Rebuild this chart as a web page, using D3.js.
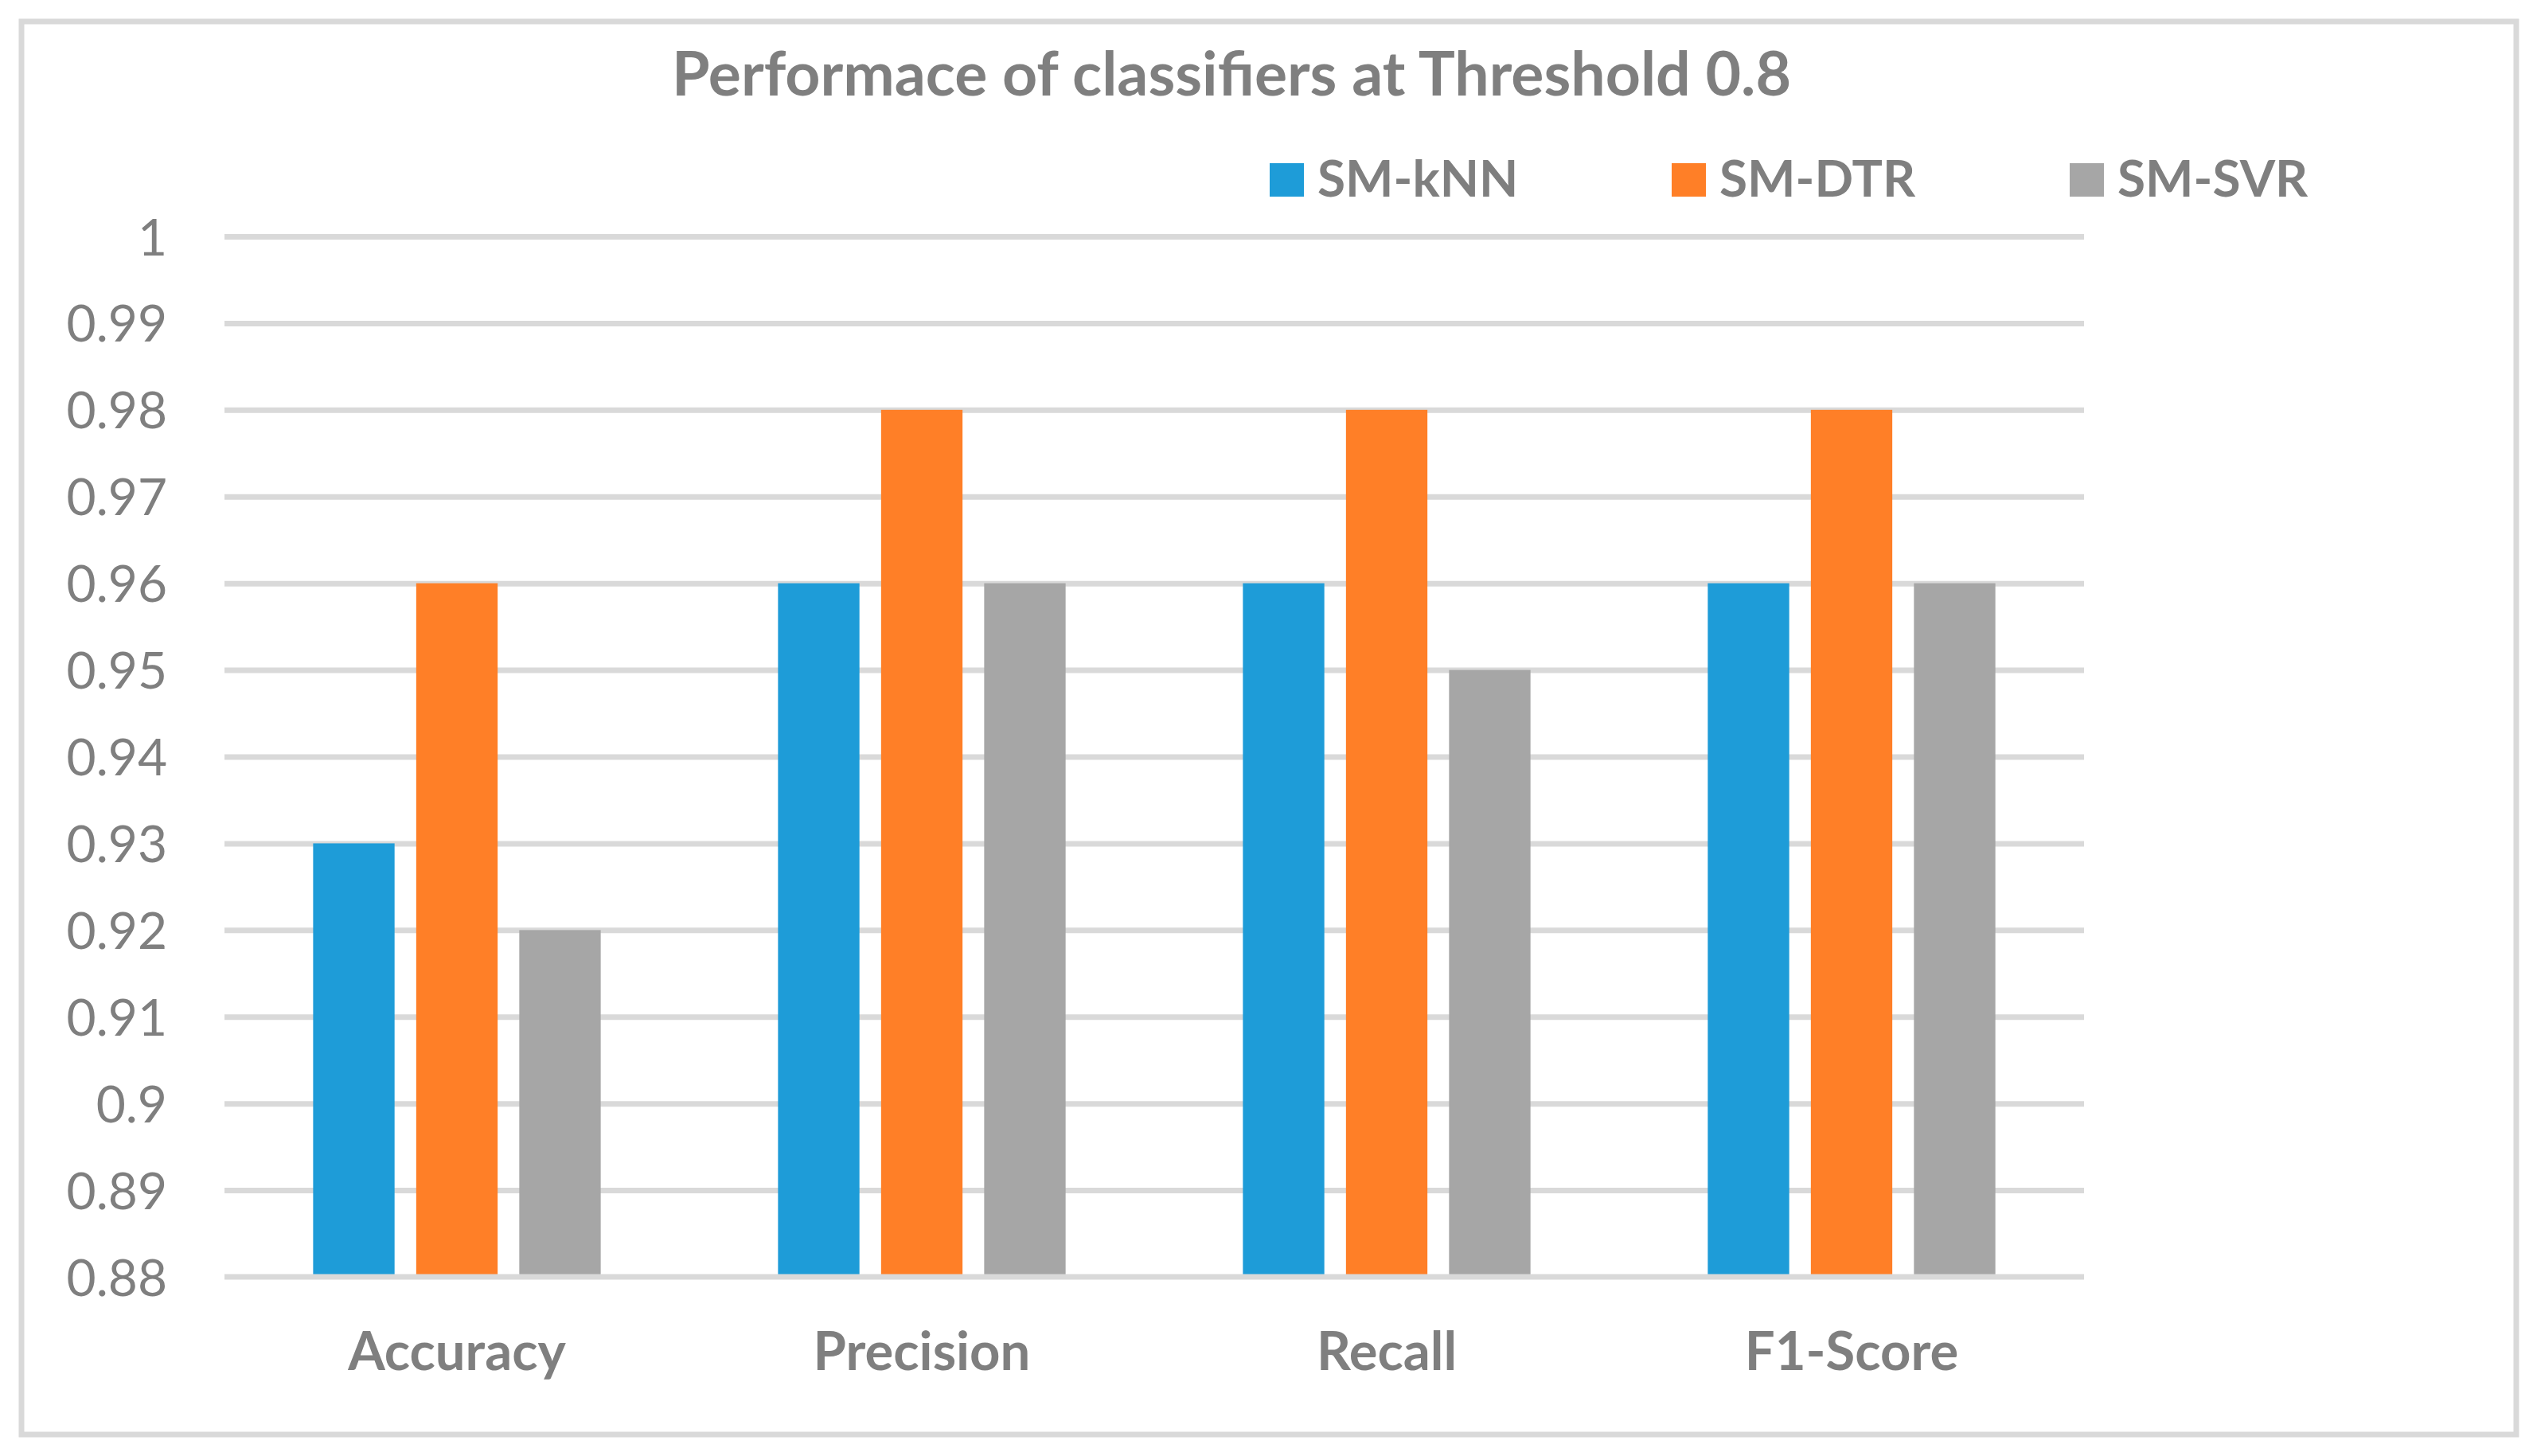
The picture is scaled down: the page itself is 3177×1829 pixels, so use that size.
<!DOCTYPE html>
<meta charset="utf-8" />
<style>
  body { margin: 0; background: #fff; }
  #chart { width: 3177px; height: 1829px; }
  text { font-family: Lato, "Open Sans", sans-serif; fill: #7f7f7f; }
  .grid line { stroke: #d9d9d9; stroke-width: 7; }
  .grid .domain { display: none; }
  .yaxis .domain { display: none; }
  .yaxis text { font-size: 64px; }
  .cat { font-size: 67px; font-weight: bold; }
  .legend text { font-size: 64px; font-weight: bold; }
  .title { font-size: 77px; font-weight: bold; }
</style>
<body>
  <div id="chart"></div>
  <script src="https://d3js.org/d3.v7.min.js"></script>
  <script>
    const categories = ["Accuracy", "Precision", "Recall", "F1-Score"];
    const seriesNames = ["SM-kNN", "SM-DTR", "SM-SVR"];
    const knn = [0.93, 0.96, 0.96, 0.96];
    const dtr = [0.96, 0.98, 0.98, 0.98];
    const svr = [0.92, 0.96, 0.95, 0.96];
    const yTicks = [0.88, 0.89, 0.9, 0.91, 0.92, 0.93, 0.94, 0.95, 0.96, 0.97, 0.98, 0.99, 1];
    const colors = ["#1e9cd8", "#ff7f27", "#a6a6a6"];

    const width = 3177;
    const height = 1829;
    const plot = { left: 282, right: 2618, top: 297, bottom: 1604 };

    const svg = d3
      .select("#chart")
      .append("svg")
      .attr("width", width)
      .attr("height", height);

    // outer frame
    svg
      .append("rect")
      .attr("x", 27)
      .attr("y", 27)
      .attr("width", 3134)
      .attr("height", 1775)
      .attr("fill", "none")
      .attr("stroke", "#d9d9d9")
      .attr("stroke-width", 7);

    const y = d3.scaleLinear().domain([0.88, 1]).range([plot.bottom, plot.top]);
    const x0 = d3
      .scaleBand()
      .domain(categories)
      .range([plot.left, plot.right])
      .padding(0);
    const x1 = d3
      .scaleBand()
      .domain(seriesNames)
      .range([0, x0.bandwidth()])
      .paddingInner(0.21)
      .paddingOuter(0.86);

    // gridlines
    svg
      .append("g")
      .attr("class", "grid")
      .attr("transform", `translate(${plot.left},0)`)
      .call(
        d3
          .axisLeft(y)
          .tickValues(yTicks.slice(1))
          .tickSize(-(plot.right - plot.left))
          .tickFormat("")
      );

    // tick labels
    svg
      .append("g")
      .attr("class", "yaxis")
      .attr("transform", `translate(${plot.left},0)`)
      .call(
        d3
          .axisLeft(y)
          .tickValues(yTicks)
          .tickSize(0)
          .tickPadding(72)
          .tickFormat((d) => String(+d.toFixed(2)))
      )
      .selectAll("text")
      .attr("dy", "0.36em");

    const rows = categories.map((c, i) => ({
      cat: c,
      vals: [knn[i], dtr[i], svr[i]],
    }));

    const groups = svg
      .selectAll(".group")
      .data(rows)
      .enter()
      .append("g")
      .attr("transform", (d) => `translate(${x0(d.cat)},0)`);

    groups
      .selectAll("rect")
      .data((d) => d.vals.map((v, j) => ({ name: seriesNames[j], v, j })))
      .enter()
      .append("rect")
      .attr("x", (d) => x1(d.name))
      .attr("width", x1.bandwidth())
      .attr("y", (d) => y(d.v))
      .attr("height", (d) => y(0.88) - y(d.v))
      .attr("fill", (d) => colors[d.j]);

    // baseline on top of bars
    svg
      .append("line")
      .attr("x1", plot.left)
      .attr("x2", plot.right)
      .attr("y1", y(0.88))
      .attr("y2", y(0.88))
      .attr("stroke", "#d9d9d9")
      .attr("stroke-width", 7);

    // category labels
    svg
      .selectAll(".cat")
      .data(categories)
      .enter()
      .append("text")
      .attr("class", "cat")
      .attr("x", (d) => x0(d) + x0.bandwidth() / 2)
      .attr("y", 1721)
      .attr("text-anchor", "middle")
      .text((d) => d);

    // title
    svg
      .append("text")
      .attr("class", "title")
      .attr("x", 1547)
      .attr("y", 120)
      .attr("text-anchor", "middle")
      .text("Performace of classifiers at Threshold 0.8");

    // legend
    const legendX = [1595, 2100, 2600];
    const legend = svg
      .append("g")
      .attr("class", "legend")
      .selectAll("g")
      .data(seriesNames)
      .enter()
      .append("g")
      .attr("transform", (d, i) => `translate(${legendX[i]},0)`);

    legend
      .append("rect")
      .attr("y", 205)
      .attr("width", 43)
      .attr("height", 42)
      .attr("fill", (d, i) => colors[i]);

    legend
      .append("text")
      .attr("x", 60)
      .attr("y", 247)
      .text((d) => d);
  </script>
</body>
